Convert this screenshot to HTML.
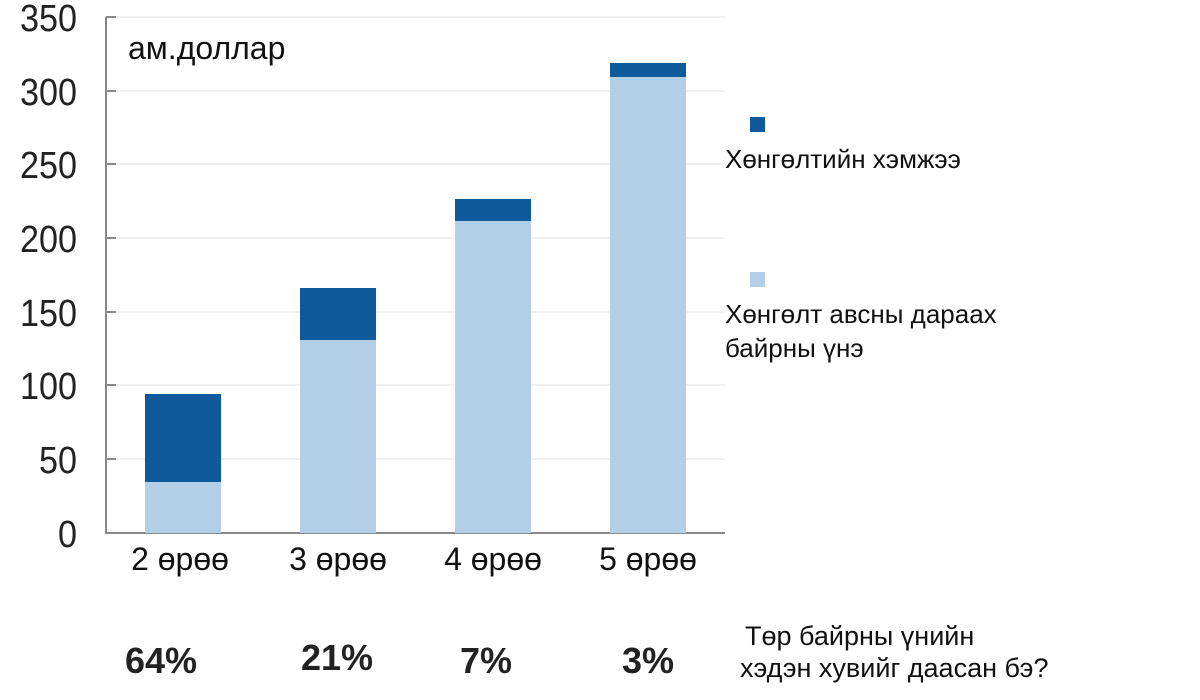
<!DOCTYPE html>
<html><head><meta charset="utf-8"><style>
html,body{margin:0;padding:0;background:#fff;}
svg text{font-family:"Liberation Sans",Arial,sans-serif;}
</style></head><body>
<svg width="1200" height="695" viewBox="0 0 1200 695" xmlns="http://www.w3.org/2000/svg">
<g stroke="#ececec" stroke-width="1.5">
<line x1="106" y1="17" x2="725" y2="17"/>
<line x1="106" y1="91" x2="725" y2="91"/>
<line x1="106" y1="164" x2="725" y2="164"/>
<line x1="106" y1="238" x2="725" y2="238"/>
<line x1="106" y1="312" x2="725" y2="312"/>
<line x1="106" y1="385" x2="725" y2="385"/>
<line x1="106" y1="459" x2="725" y2="459"/>
</g>
<g stroke="#888" stroke-width="2">
<line x1="106" y1="17" x2="106" y2="533"/>
<line x1="105" y1="533" x2="725" y2="533"/>
<line x1="106" y1="17" x2="116" y2="17"/>
<line x1="106" y1="91" x2="116" y2="91"/>
<line x1="106" y1="164" x2="116" y2="164"/>
<line x1="106" y1="238" x2="116" y2="238"/>
<line x1="106" y1="312" x2="116" y2="312"/>
<line x1="106" y1="385" x2="116" y2="385"/>
<line x1="106" y1="459" x2="116" y2="459"/>
</g>
<g font-size="38" fill="#222" lengthAdjust="spacingAndGlyphs">
<text x="20" y="31" textLength="57" lengthAdjust="spacingAndGlyphs">350</text>
<text x="20" y="105" textLength="57" lengthAdjust="spacingAndGlyphs">300</text>
<text x="20" y="178" textLength="57" lengthAdjust="spacingAndGlyphs">250</text>
<text x="20" y="252" textLength="57" lengthAdjust="spacingAndGlyphs">200</text>
<text x="20" y="326" textLength="57" lengthAdjust="spacingAndGlyphs">150</text>
<text x="20" y="399" textLength="57" lengthAdjust="spacingAndGlyphs">100</text>
<text x="39" y="473" textLength="38" lengthAdjust="spacingAndGlyphs">50</text>
<text x="58" y="547" textLength="19" lengthAdjust="spacingAndGlyphs">0</text>
</g>
<text x="128" y="59" font-size="32" fill="#111">ам.доллар</text>
<g fill="#b3cfe8">
<rect x="145" y="482" width="76" height="51"/>
<rect x="300" y="340" width="76" height="193"/>
<rect x="455" y="221" width="76" height="312"/>
<rect x="610" y="77" width="76" height="456"/>
</g>
<g fill="#0f5a9a">
<rect x="145" y="394" width="76" height="88"/>
<rect x="300" y="288" width="76" height="52"/>
<rect x="455" y="199" width="76" height="22"/>
<rect x="610" y="63" width="76" height="14"/>
</g>
<g font-size="32" fill="#111" text-anchor="middle">
<text x="180" y="570">2 өрөө</text>
<text x="338" y="570">3 өрөө</text>
<text x="493" y="570">4 өрөө</text>
<text x="648" y="570">5 өрөө</text>
</g>
<g font-size="36" font-weight="bold" fill="#222" text-anchor="middle">
<text x="161" y="673">64%</text>
<text x="337" y="670">21%</text>
<text x="486" y="673">7%</text>
<text x="648" y="673">3%</text>
</g>
<rect x="750" y="117" width="15" height="15" fill="#0f5a9a"/>
<text x="725" y="168" font-size="26" fill="#111">Хөнгөлтийн хэмжээ</text>
<rect x="750" y="272" width="15" height="15" fill="#b3cfe8"/>
<text x="725" y="323" font-size="26" fill="#111">Хөнгөлт авсны дараах</text>
<text x="725" y="357" font-size="26" fill="#111">байрны үнэ</text>
<text x="745" y="645" font-size="27" fill="#111">Төр байрны үнийн</text>
<text x="740" y="677" font-size="27" fill="#111">хэдэн хувийг даасан бэ?</text>
</svg>
</body></html>
